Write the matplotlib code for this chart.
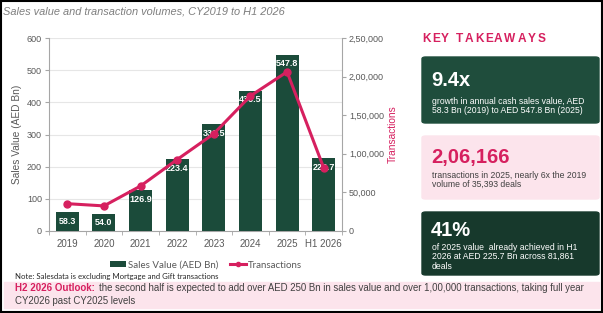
import matplotlib
matplotlib.use('Agg')
import matplotlib.pyplot as plt
from matplotlib.patches import Rectangle, FancyBboxPatch
from matplotlib.ticker import FuncFormatter, FixedLocator
from matplotlib.textpath import TextPath
from matplotlib.font_manager import FontProperties

plt.rcParams['font.family'] = ['Liberation Sans', 'DejaVu Sans']

# data
years = ['2019', '2020', '2021', '2022', '2023', '2024', '2025', 'H1 2026']
sales_value = [58.3, 54.0, 126.9, 223.4, 331.5, 436.5, 547.8, 225.7]
transactions = [35393, 32500, 58300, 92600, 126000, 175000, 206166, 81861]

green = '#1b4b3a'
pink = '#d6205f'
grey = '#595959'

W, H = 603, 313
fig = plt.figure(figsize=(W / 100, H / 100), dpi=100)


def fx(x):
    return x / W


def fy(y):
    return 1 - y / H


# outer frame
fig.patches.append(Rectangle((0.001, 0.002), 0.997, 0.995, transform=fig.transFigure,
                             fill=False, edgecolor='black', lw=1.5))

fig.text(fx(3), fy(12), 'Sales value and transaction volumes, CY2019 to H1 2026',
         fontsize=7.95, style='italic', color='#7f7f7f', va='center')

# main chart
ax = fig.add_axes([fx(49), fy(231), fx(342) - fx(49), fy(38) - fy(231)])
x = range(len(years))
ax.bar(x, sales_value, width=0.63, color=green, zorder=3, label='Sales Value (AED Bn)')
for i, v in enumerate(sales_value):
    ax.annotate(f'{v:.1f}', (i, v), xytext=(0, -6.5), textcoords='offset points',
                ha='center', va='center', color='white', fontsize=6.5, fontweight='bold', zorder=6)
ax.set_xlim(-0.5, len(years) - 0.5)
ax.set_ylim(0, 600)
ax.set_yticks(range(0, 601, 100))
ax.set_xticks(list(x))
ax.set_xticklabels(years)
ax.xaxis.set_minor_locator(FixedLocator([i + 0.5 for i in range(-1, len(years))]))
ax.tick_params(axis='x', which='major', length=0, pad=6, labelsize=7, labelcolor=grey)
ax.tick_params(axis='x', which='minor', length=3, color='#a6a6a6', direction='out')
ax.tick_params(axis='y', length=3, color='#a6a6a6', labelsize=6.5, labelcolor=grey, pad=2)
ax.grid(axis='y', color='#e6e6e6', lw=0.8, zorder=0)
for s in ['top', 'right']:
    ax.spines[s].set_visible(False)
for s in ['left', 'bottom']:
    ax.spines[s].set_color('#a6a6a6')
ax.set_ylabel('Sales Value (AED Bn)', fontsize=7.3, color=grey)
ax.yaxis.set_label_coords((22 - 49) / 293, 0.5)

ax2 = ax.twinx()
ax2.plot(list(x), transactions, color=pink, lw=2.2, marker='o', ms=5, zorder=5,
         label='Transactions')
ax2.set_ylim(0, 250000)
ax2.set_yticks(range(0, 250001, 50000))


def indian(v, pos):
    v = int(round(v))
    if v < 100000:
        return f'{v:,}'
    return f'{v // 100000},{(v % 100000) // 1000:02d},{v % 1000:03d}'


ax2.yaxis.set_major_formatter(FuncFormatter(indian))
ax2.tick_params(axis='y', length=3, color='#a6a6a6', labelsize=6.5, labelcolor=grey, pad=2)
for s in ['top', 'left', 'bottom']:
    ax2.spines[s].set_visible(False)
ax2.spines['right'].set_color('#a6a6a6')
ax2.set_ylabel('Transactions', fontsize=7.3, color=pink)
ax2.yaxis.set_label_coords((388 - 49) / 293, 0.5)
ax.set_zorder(1)
ax2.set_zorder(2)
ax2.patch.set_visible(False)

# legend
h1, l1 = ax.get_legend_handles_labels()
h2, l2 = ax2.get_legend_handles_labels()
fig.legend(h1 + h2, l1 + l2, loc='center', bbox_to_anchor=(fx(206), fy(265)), ncol=2,
           frameon=False, prop={'family': 'Lato', 'size': 7}, labelcolor=grey,
           handlelength=1.7, handleheight=0.55, columnspacing=1.2, handletextpad=0.15,
           markerscale=0.6, borderpad=0)

fig.text(fx(15), fy(277), 'Note: Salesdata is excluding Mortgage and Gift transactions',
         fontsize=5.6, family='Lato', color='#262626', va='center')

# bottom outlook box
fig.patches.append(Rectangle((fx(4), fy(308)), fx(595), fy(282) - fy(308),
                             transform=fig.transFigure, color='#fce4ec', zorder=0))
fig.text(fx(15), fy(288), 'H2 2026 Outlook:', fontsize=7, fontweight='bold',
         color=pink, va='center')
fig.text(fx(99), fy(288), 'the second half is expected to add over AED 250 Bn in sales value and '
         'over 1,00,000 transactions, taking full year', fontsize=6.9, color='#404040', va='center')
fig.text(fx(15), fy(301), 'CY2026 past CY2025 levels', fontsize=6.9, color='#404040', va='center')

# key takeaways heading with letter spacing
fp = FontProperties(family='Liberation Sans', weight='bold', size=8.6)
xpos = 422
for ch in 'KEY TAKEAWAYS':
    if ch == ' ':
        xpos += 5
        continue
    fig.text(fx(xpos), fy(39.5), ch, fontproperties=fp, color=pink, va='center')
    w = TextPath((0, 0), ch, prop=fp).get_extents().width * 100 / 72
    xpos += w + 2.2

# takeaway boxes: top, bottom, colour, big text, its colour, big offset, lines, colour, first line offset
boxes = [
    (57, 123, '#1f4d3c', '9.4x', 'white', 23,
     ['growth in annual cash sales value, AED', '58.3 Bn (2019) to AED 547.8 Bn (2025)'], 'white', 44),
    (136, 199, '#fce4ec', '2,06,166', pink, 21,
     ['transactions in 2025, nearly 6x the 2019', 'volume of 35,393 deals'], '#404040', 39),
    (212, 275, '#17392c', '41%', 'white', 18,
     ['of 2025 value  already achieved in H1', '2026 at AED 225.7 Bn across 81,861', 'deals'],
     'white', 35.5),
]
for top, bot, col, big, bigc, boff, lines, linec, loff in boxes:
    fig.patches.append(FancyBboxPatch((fx(422), fy(bot)), fx(599) - fx(422), fy(top) - fy(bot),
                                      boxstyle='round,pad=0,rounding_size=0.006',
                                      transform=fig.transFigure, color=col, zorder=0))
    fig.text(fx(431), fy(top + boff), big, fontsize=14.5, fontweight='bold', color=bigc, va='center')
    for j, ln in enumerate(lines):
        fig.text(fx(432), fy(top + loff + j * 9.3), ln, fontsize=6.2, color=linec, va='center')

fig.savefig('out.png', dpi=100)
